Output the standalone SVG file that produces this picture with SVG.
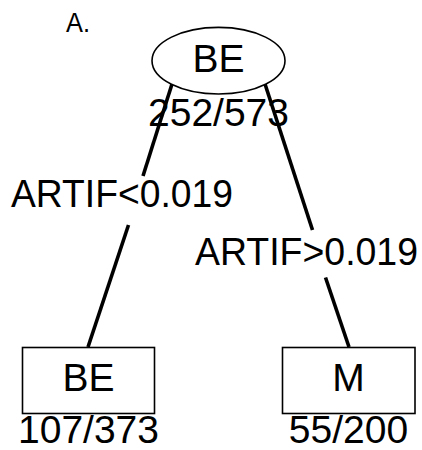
<svg xmlns="http://www.w3.org/2000/svg" width="422" height="450" viewBox="0 0 422 450">
<style>
text{font-family:"Liberation Sans",Arial,sans-serif;fill:#000;}
.big{font-size:39px;}
.lbl{font-size:38px;}
.node{fill:#fff;stroke:#000;stroke-width:1.6;}
.edge{stroke:#000;stroke-width:3.6;fill:none;}
</style>
<rect width="422" height="450" fill="#fff"/>
<text x="66" y="32" style="font-size:28px" textLength="24" lengthAdjust="spacingAndGlyphs">A.</text>
<g id="edges">
<line class="edge" x1="172" y1="84" x2="143" y2="176"/>
<line class="edge" x1="128.5" y1="225" x2="88" y2="347"/>
<line class="edge" x1="265" y1="84" x2="312.5" y2="230"/>
<line class="edge" x1="325.5" y1="277.5" x2="349" y2="347"/>
<text class="lbl" x="11" y="207" textLength="222" lengthAdjust="spacingAndGlyphs">ARTIF&lt;0.019</text>
<text class="lbl" x="195" y="265" textLength="223" lengthAdjust="spacingAndGlyphs">ARTIF&gt;0.019</text>
</g>
<g id="root">
<ellipse class="node" cx="218.5" cy="60.7" rx="66.5" ry="33.3"/>
<text class="big" x="218.5" y="72" text-anchor="middle">BE</text>
<text class="big" x="218.5" y="126" text-anchor="middle">252/573</text>
</g>
<g id="leftLeaf">
<rect class="node" x="22.5" y="347.5" width="132" height="66"/>
<text class="big" x="88.5" y="391" text-anchor="middle">BE</text>
<text class="big" x="88.5" y="443" text-anchor="middle">107/373</text>
</g>
<g id="rightLeaf">
<rect class="node" x="282.5" y="347.5" width="132.5" height="66"/>
<text class="big" x="348.5" y="391" text-anchor="middle">M</text>
<text class="big" x="348.5" y="443" text-anchor="middle">55/200</text>
</g>
</svg>
